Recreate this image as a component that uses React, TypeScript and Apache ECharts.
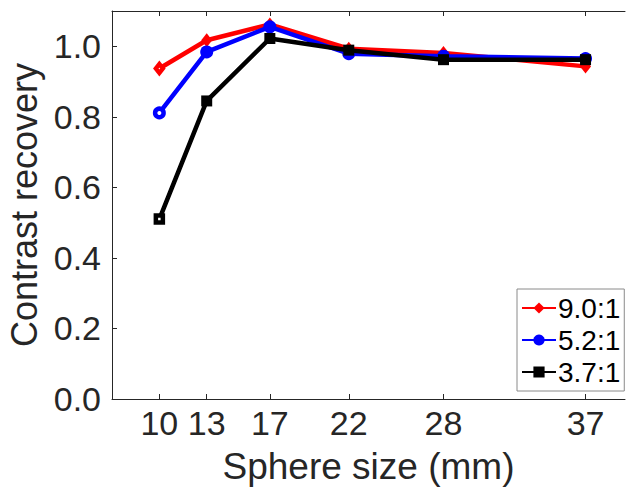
import React, { useEffect, useRef } from "react";
import * as echarts from "echarts";

const sizes = [10, 13, 17, 22, 28, 37];
const seriesNames = ["9.0:1", "5.2:1", "3.7:1"];
const red90 = [0.937, 1.017, 1.062, 0.993, 0.981, 0.943];
const blue52 = [0.811, 0.984, 1.055, 0.979, 0.972, 0.965];
const black37 = [0.51, 0.845, 1.022, 0.989, 0.962, 0.962];
const yTicks = [0, 0.2, 0.4, 0.6, 0.8, 1.0];

const colors = ["#ff0000", "#0000ff", "#000000"];
const symbols = ["diamond", "circle", "rect"];
const symbolSizes: any[] = [[11, 14], 13, 11];
const firstSizes: any[] = [[7, 9], 8.5, 7];

export default function App() {
  const ref = useRef<HTMLDivElement>(null);
  useEffect(() => {
    if (!ref.current) return;
    const chart = echarts.init(ref.current, undefined, { renderer: "svg" });
    const font = "'Liberation Sans', Arial, Helvetica, sans-serif";
    const values = [red90, blue52, black37];
    const series = values.map((vals, si) => ({
      name: seriesNames[si],
      type: "line",
      symbol: symbols[si],
      symbolSize: symbolSizes[si],
      lineStyle: { width: 4.5, color: colors[si] },
      itemStyle: { color: colors[si] },
      data: vals.map((v, i) =>
        i === 0
          ? {
              value: [sizes[i], v],
              symbolSize: firstSizes[si],
              itemStyle: { color: "#ffffff", borderColor: colors[si], borderWidth: 4.5 },
            }
          : { value: [sizes[i], v] }
      ),
      z: 2 + si,
    }));
    chart.setOption({
      animation: false,
      backgroundColor: "#ffffff",
      grid: { left: 112, top: 11, right: 1, bottom: 90, containLabel: false, outerBoundsMode: "none" },
      textStyle: { fontFamily: font },
      legend: {
        orient: "vertical",
        left: 517,
        top: 289,
        width: 107,
        padding: [5, 4, 5, 4],
        itemGap: 4,
        itemWidth: 34,
        itemHeight: 14,
        borderColor: "#8a8a8a",
        borderWidth: 1,
        backgroundColor: "#ffffff",
        textStyle: { fontSize: 28, color: "#000000", fontFamily: font, padding: [0, 0, 0, -3] },
        data: seriesNames,
      },
      xAxis: [
        {
          type: "value",
          min: 7,
          max: 39.5,
          name: "Sphere size (mm)",
          nameLocation: "middle",
          nameGap: 49,
          nameTextStyle: { fontSize: 37, color: "#262626", fontFamily: font },
          axisLine: { show: true, lineStyle: { color: "#262626", width: 1 } },
          axisTick: { show: true, inside: true, length: 5, customValues: sizes, lineStyle: { color: "#262626" } },
          axisLabel: { customValues: sizes, fontSize: 34, color: "#262626", margin: 7, fontFamily: font },
          splitLine: { show: false },
        },
        {
          type: "value",
          position: "top",
          min: 7,
          max: 39.5,
          axisLine: { show: true, lineStyle: { color: "#262626", width: 1 } },
          axisTick: { show: true, inside: true, length: 5, customValues: sizes, lineStyle: { color: "#262626" } },
          axisLabel: { show: false },
          splitLine: { show: false },
        },
      ],
      yAxis: {
        type: "value",
        min: 0,
        max: 1.1,
        name: "Contrast recovery",
        nameLocation: "middle",
        nameGap: 66,
        nameTextStyle: { fontSize: 36, color: "#262626", fontFamily: font },
        axisLine: { show: true, lineStyle: { color: "#262626", width: 1 } },
        axisTick: { show: true, inside: true, length: 5, customValues: yTicks, lineStyle: { color: "#262626" } },
        axisLabel: {
          customValues: yTicks,
          fontSize: 34,
          color: "#262626",
          margin: 11,
          fontFamily: font,
          formatter: (v: number) => v.toFixed(1),
        },
        splitLine: { show: false },
      },
      series,
    });
    return () => chart.dispose();
  }, []);
  return <div ref={ref} style={{ width: 626, height: 489, position: "absolute", left: 0, top: 0 }} />;
}
